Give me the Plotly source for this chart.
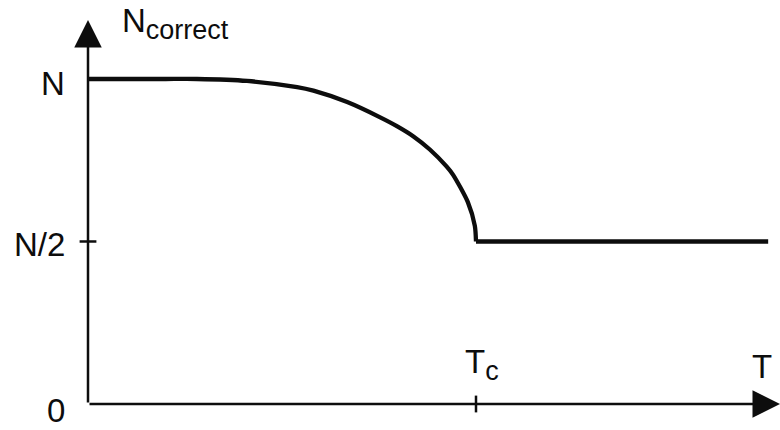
import plotly.graph_objects as go

# ---- data (normalised units: x in T/Tc, y in N_correct/N) ----
curve_x = [0.0, 0.10, 0.20, 0.281, 0.41, 0.539, 0.581, 0.668, 0.753, 0.796, 0.838, 0.881,
           0.924, 0.941, 0.979, 0.997, 1.0]
curve_y = [1.0, 1.0, 1.0, 1.0, 0.994, 0.975, 0.964, 0.929, 0.882, 0.855, 0.824, 0.783,
           0.731, 0.705, 0.621, 0.548, 0.5]
flat_x = [1.0, 1.753]
flat_y = [0.5, 0.5]

y_tick_vals = [0, 0.5, 1]
y_tick_text = ["0", "N/2", "N"]
x_tick_vals = [1.0, 1.738]
x_tick_text = ["T<sub><span style='font-size:27px'>c</span></sub>", "T"]
y_title = "N<sub><span style='font-size:27px'>correct</span></sub>"

X_MAX = 1.7835
Y_MAX = 1.1815

INK = "#0d0d0d"
FONT = "Liberation Sans, Arial, Helvetica, sans-serif"

fig = go.Figure()

# the curve
fig.add_trace(go.Scatter(x=curve_x, y=curve_y, mode="lines",
                         line=dict(color=INK, width=4.3, shape="spline", smoothing=0.7),
                         hoverinfo="skip", showlegend=False, cliponaxis=False))
fig.add_trace(go.Scatter(x=flat_x, y=flat_y, mode="lines",
                         line=dict(color=INK, width=4.3),
                         hoverinfo="skip", showlegend=False, cliponaxis=False))

# crossing tick marks
fig.add_trace(go.Scatter(x=[0], y=[y_tick_vals[1]], mode="markers",
                         marker=dict(symbol="line-ew", size=12, line=dict(color=INK, width=2.5)),
                         hoverinfo="skip", showlegend=False, cliponaxis=False))
fig.add_trace(go.Scatter(x=[x_tick_vals[0]], y=[0], mode="markers",
                         marker=dict(symbol="line-ns", size=12, line=dict(color=INK, width=2.5)),
                         hoverinfo="skip", showlegend=False, cliponaxis=False))

annotations = []
# axes with arrows
annotations.append(dict(x=0, y=Y_MAX, ax=0, ay=0, xref="x", yref="y", axref="x", ayref="y",
                        showarrow=True, arrowhead=2, arrowsize=2.2, arrowwidth=2.5,
                        arrowcolor=INK, text=""))
annotations.append(dict(x=X_MAX, y=0, ax=0, ay=0, xref="x", yref="y", axref="x", ayref="y",
                        showarrow=True, arrowhead=2, arrowsize=2.2, arrowwidth=2.5,
                        arrowcolor=INK, text=""))

# y tick labels
yshifts = [-6, -3, -4.5]
for v, t, s in zip(y_tick_vals, y_tick_text, yshifts):
    annotations.append(dict(x=0, y=v, xref="x", yref="y", text=t, showarrow=False,
                            xanchor="right", yanchor="middle", xshift=-21, yshift=s,
                            font=dict(family=FONT, size=33, color=INK)))

# x tick labels
annotations.append(dict(x=x_tick_vals[0], y=0, xref="x", yref="y", text=x_tick_text[0],
                        showarrow=False, xanchor="left", yanchor="bottom",
                        xshift=-13, yshift=16,
                        font=dict(family=FONT, size=33, color=INK)))
annotations.append(dict(x=x_tick_vals[1], y=0, xref="x", yref="y", text=x_tick_text[1],
                        showarrow=False, xanchor="center", yanchor="bottom",
                        xshift=0, yshift=17,
                        font=dict(family=FONT, size=33, color=INK)))

# y axis title
annotations.append(dict(x=0, y=Y_MAX, xref="x", yref="y", text=y_title,
                        showarrow=False, xanchor="left", yanchor="middle",
                        xshift=32, yshift=-3,
                        font=dict(family=FONT, size=33, color=INK)))

fig.update_layout(
    width=780, height=430,
    margin=dict(l=88, r=0, t=20, b=26),
    paper_bgcolor="white", plot_bgcolor="white",
    xaxis=dict(range=[0, X_MAX], visible=False, fixedrange=True),
    yaxis=dict(range=[0, Y_MAX], visible=False, fixedrange=True),
    annotations=annotations,
    showlegend=False,
)

fig.write_html("out.html", config={"displayModeBar": False},
               post_script="document.body.style.margin='0';document.body.style.overflow='hidden';")
